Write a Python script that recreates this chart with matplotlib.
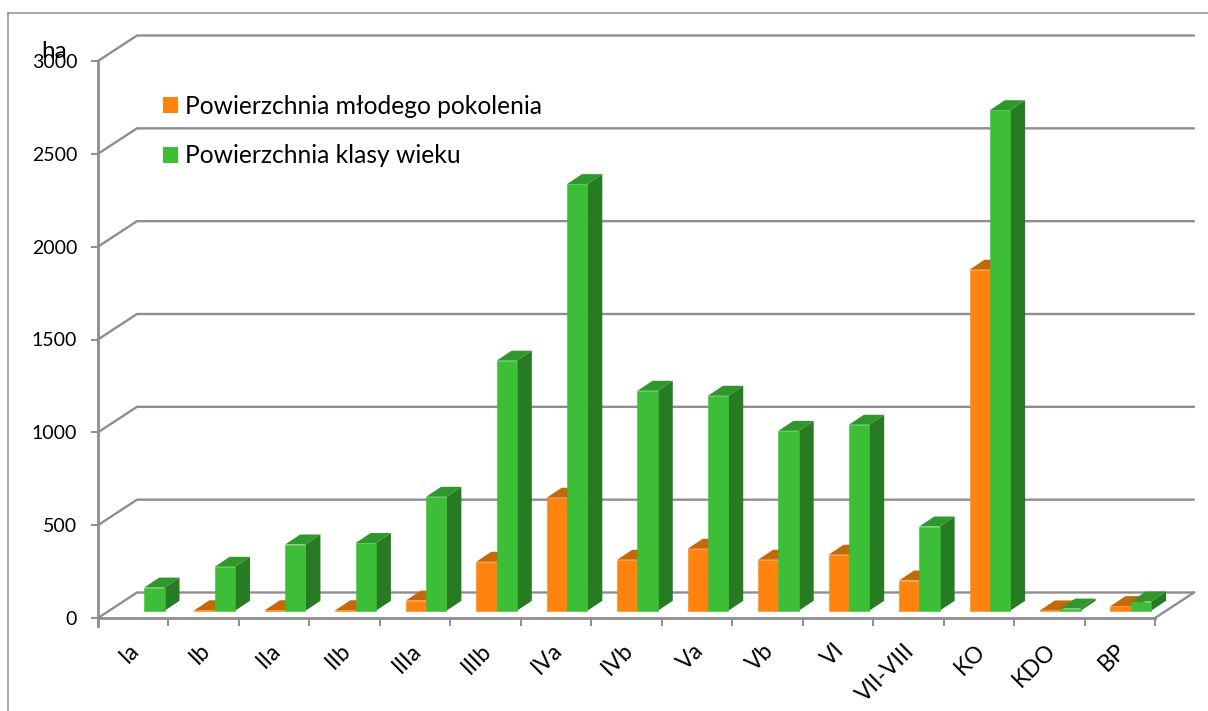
import matplotlib
matplotlib.use("Agg")
import matplotlib.pyplot as plt
from matplotlib.lines import Line2D
from matplotlib.patches import Patch
from matplotlib.transforms import ScaledTranslation

plt.rcParams['font.family'] = ['Lato', 'DejaVu Sans']

categories = ['Ia', 'Ib', 'IIa', 'IIb', 'IIIa', 'IIIb', 'IVa', 'IVb', 'Va', 'Vb',
              'VI', 'VII-VIII', 'KO', 'KDO', 'BP']
young_area = [0, 3, 3, 3, 55, 264, 609, 275, 334, 275, 302, 163, 1837, 2, 25]
class_area = [125, 237, 357, 365, 614, 1347, 2298, 1185, 1158, 969, 1002, 454, 2696, 12, 50]
y_ticks = [0, 500, 1000, 1500, 2000, 2500, 3000]
series_names = ['Powierzchnia młodego pokolenia', 'Powierzchnia klasy wieku']
unit_label = 'ha'

W, H = 1208, 711
GREY = '#8E8E8E'
ORANGE = ('#FF840F', '#C4690A', '#A85A08')
GREEN = ('#3CBE36', '#2F972B', '#277B23')

fig = plt.figure(figsize=(W / 100, H / 100), dpi=100)
ax = fig.add_axes([98 / W, 1 - 618 / H, (1155 - 98) / W, (618 - 61) / H])
ax.set_xlim(0, len(categories))
ax.set_ylim(0, 3000)
ax.patch.set_alpha(0)

px_x = (1155 - 98) / len(categories)   # px per category
px_y = (618 - 61) / 3000               # px per value unit
wall_dx, wall_dy = 39 / px_x, 25.5 / px_y
bar_dx, bar_dy = 15 / px_x, 10 / px_y
bar_w = 20.3 / px_x
base_y = 7.2 / px_y
orange_off = 25.9 / px_x
green_off = orange_off + bar_w

# walls
for v in y_ticks:
    ax.plot([0, wall_dx, len(categories) + wall_dx], [v, v + wall_dy, v + wall_dy],
            color=GREY, lw=1.7, clip_on=False, zorder=1, solid_capstyle='round')
ax.plot([len(categories), len(categories) + wall_dx], [0, wall_dy], color=GREY, lw=1.7,
        clip_on=False, zorder=1)


def bar3d(x, v, cols, z):
    y0, y1 = base_y, base_y + v
    x1 = x + bar_w
    ax.fill([x1, x1 + bar_dx, x1 + bar_dx, x1], [y0, y0 + bar_dy, y1 + bar_dy, y1],
            color=cols[2], lw=0, clip_on=False, zorder=z)
    ax.fill([x, x1, x1 + bar_dx, x + bar_dx], [y1, y1, y1 + bar_dy, y1 + bar_dy],
            color=cols[1], lw=0, clip_on=False, zorder=z)
    ax.fill([x, x1, x1, x], [y0, y0, y1, y1], facecolor=cols[0], edgecolor=cols[0], lw=0.4,
            clip_on=False, zorder=z)


for i, (a, b) in enumerate(zip(young_area, class_area)):
    if a > 0:
        bar3d(i + orange_off, a, ORANGE, 3 + i * 0.01)
    bar3d(i + green_off, b, GREEN, 3.005 + i * 0.01)

# axes
for s in ('top', 'right'):
    ax.spines[s].set_visible(False)
for s in ('left', 'bottom'):
    ax.spines[s].set_color(GREY)
    ax.spines[s].set_linewidth(2.0)
    ax.spines[s].set_zorder(2)

ax.set_yticks(y_ticks)
ax.tick_params(axis='y', length=5, width=1.4, color=GREY, pad=10, labelsize=14, labelcolor='black')
ax.set_xticks(range(len(categories) + 1), minor=True)
ax.set_xticks([i + 0.5 for i in range(len(categories))])
ax.set_xticklabels(categories, rotation=45, ha='right', va='center', rotation_mode='anchor', fontsize=16.5)
ax.tick_params(axis='x', which='major', length=0, pad=21)
ax.tick_params(axis='x', which='minor', length=6, width=1.4, color=GREY)
off = ScaledTranslation(3 / 100, 0, fig.dpi_scale_trans)
for lab in ax.get_xticklabels():
    lab.set_transform(lab.get_transform() + off)
ax.spines['left'].set_bounds(-8 / px_y, 3000)

fig.text(41 / W, 1 - 58 / H, unit_label, fontsize=17.5, color='black', ha='left', va='baseline')

# outer frame
fig.add_artist(Line2D([8 / W, 8 / W], [0, 1 - 13 / H], color=GREY, lw=1.1))
fig.add_artist(Line2D([8 / W, 1], [1 - 13 / H, 1 - 13 / H], color=GREY, lw=1.1))

# legend
handles = [Patch(facecolor=ORANGE[0], edgecolor='none'), Patch(facecolor=GREEN[0], edgecolor='none')]
fs = 17.7
fs_px = fs * 100 / 72
leg = fig.legend(handles, series_names, loc='upper left', bbox_to_anchor=(163 / W, 1 - 95 / H),
                 bbox_transform=fig.transFigure, frameon=False, fontsize=fs, borderaxespad=0, borderpad=0,
                 handlelength=15 / fs_px, handleheight=15 / fs_px, handletextpad=7 / fs_px,
                 labelspacing=(51 - fs_px) / fs_px)

fig.savefig('out.png', dpi=100)
